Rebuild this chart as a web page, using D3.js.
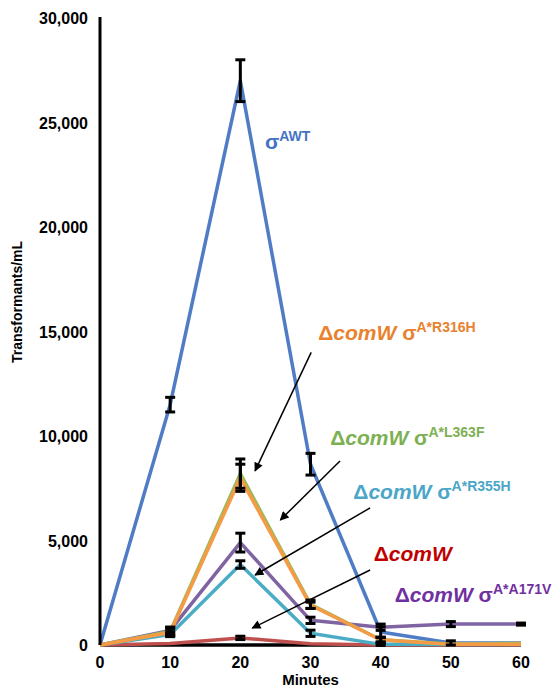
<!DOCTYPE html>
<html>
<head>
<meta charset="utf-8">
<script src="https://cdn.jsdelivr.net/npm/d3@7"></script>
<style>
  body { margin: 0; background: #fff; }
  text { font-family: Arial, "Liberation Sans", sans-serif; font-weight: bold; }
</style>
</head>
<body>
<div id="wrapper"></div>
<script>
// data
const minutes = [0, 10, 20, 30, 40, 50, 60]
const yTicks = [0, 5000, 10000, 15000, 20000, 25000, 30000]

const baseline = [0, 0, 0, 0, 0, 0, 0]
const comW = [0, 70, 340, 60, 0, 0, 0]
const wt = [0, 11500, 27000, 8650, 620, 100, 100]
const r355h = [0, 500, 3850, 560, 30, 20, 20]
const a171v = [0, 700, 4900, 1180, 850, 1000, 1000]
const l363f = [0, 650, 8200, 1950, 250, 50, 80]
const r316h = [0, 600, 8000, 1900, 250, 30, 30]

const comWErr = [0, 0, 80, 0, 0, 0, 0]
const wtErr = [0, 350, 1000, 520, 250, 100, 0]
const r355hErr = [0, 100, 180, 150, 50, 0, 0]
const a171vErr = [0, 150, 450, 150, 150, 120, 50]
const l363fErr = [0, 200, 700, 200, 120, 0, 0]
const r316hErr = [0, 150, 650, 150, 100, 0, 0]

const width = 556
let dimensions = {
    width: width,
    height: 688,
    margin: { top: 18, right: 35, bottom: 43, left: 100 },
}
dimensions.boundedWidth = dimensions.width - dimensions.margin.left - dimensions.margin.right
dimensions.boundedHeight = dimensions.height - dimensions.margin.top - dimensions.margin.bottom

const wrapper = d3.select("#wrapper")
    .append("svg")
    .attr("width", dimensions.width)
    .attr("height", dimensions.height)

const bounds = wrapper.append("g")
    .attr("transform", `translate(${dimensions.margin.left},${dimensions.margin.top})`)

const x = d3.scaleLinear().domain([0, 60]).range([0, dimensions.boundedWidth])
const y = d3.scaleLinear().domain([0, 30000]).range([dimensions.boundedHeight, 0])

// series, drawn bottom to top
const series = [
    { values: baseline, err: null, color: "#000000" },
    { values: comW, err: comWErr, color: "#C0504D" },
    { values: wt, err: wtErr, color: "#4F7CC4" },
    { values: r355h, err: r355hErr, color: "#4BACC6" },
    { values: a171v, err: a171vErr, color: "#8064A2" },
    { values: l363f, err: l363fErr, color: "#9BBB59" },
    { values: r316h, err: r316hErr, color: "#F59A45" },
]

const line = d3.line()
    .x((d, i) => x(minutes[i]))
    .y(d => y(d))

bounds.selectAll(".series")
    .data(series)
    .join("path")
    .attr("class", "series")
    .attr("d", d => line(d.values))
    .attr("fill", "none")
    .attr("stroke", d => d.color)
    .attr("stroke-width", 3.5)
    .attr("stroke-linejoin", "round")

// error bars
const bars = []
series.forEach(s => {
    if (!s.err) return
    s.values.forEach((v, i) => {
        if (s.err[i] > 0) bars.push({ x: minutes[i], lo: v - s.err[i], hi: v + s.err[i] })
    })
})
const eb = bounds.append("g").attr("stroke", "#000").attr("stroke-width", 3)
eb.selectAll(".stem").data(bars).join("line")
    .attr("x1", d => x(d.x)).attr("x2", d => x(d.x))
    .attr("y1", d => y(d.lo)).attr("y2", d => y(d.hi))
eb.selectAll(".capHi").data(bars).join("line")
    .attr("x1", d => x(d.x) - 5).attr("x2", d => x(d.x) + 5)
    .attr("y1", d => y(d.hi)).attr("y2", d => y(d.hi))
eb.selectAll(".capLo").data(bars).join("line")
    .attr("x1", d => x(d.x) - 5).attr("x2", d => x(d.x) + 5)
    .attr("y1", d => y(d.lo)).attr("y2", d => y(d.lo))

// y axis
bounds.append("line")
    .attr("x1", 0).attr("x2", 0)
    .attr("y1", -1).attr("y2", dimensions.boundedHeight)
    .attr("stroke", "#000").attr("stroke-width", 3)

bounds.selectAll(".ytick")
    .data(yTicks)
    .join("text")
    .attr("x", -12)
    .attr("y", d => y(d) + 6)
    .attr("text-anchor", "end")
    .attr("font-size", 16)
    .text(d => d3.format(",")(d))

bounds.selectAll(".xtick")
    .data(minutes)
    .join("text")
    .attr("x", d => x(d))
    .attr("y", dimensions.boundedHeight + 23)
    .attr("text-anchor", "middle")
    .attr("font-size", 16)
    .text(d => d)

wrapper.append("text")
    .attr("x", dimensions.margin.left + dimensions.boundedWidth / 2)
    .attr("y", 685)
    .attr("text-anchor", "middle")
    .attr("font-size", 15)
    .text("Minutes")

wrapper.append("text")
    .attr("transform", "translate(22,302) rotate(-90)")
    .attr("text-anchor", "middle")
    .attr("font-size", 14)
    .text("Transformants/mL")

// arrows
const defs = wrapper.append("defs")
defs.append("marker")
    .attr("id", "head")
    .attr("viewBox", "0 0 10 10")
    .attr("refX", 9).attr("refY", 5)
    .attr("markerWidth", 12).attr("markerHeight", 9)
    .attr("markerUnits", "userSpaceOnUse")
    .attr("orient", "auto")
    .append("path").attr("d", "M0,0L10,5L0,10z").attr("fill", "#000")

const arrows = [
    [30.1, 14000, 22.1, 8330],
    [34.2, 8800, 25.7, 5980],
    [38.5, 6560, 22.1, 3350],
    [38.5, 3590, 21.7, 810],
]
bounds.selectAll(".arrow")
    .data(arrows)
    .join("line")
    .attr("x1", d => x(d[0])).attr("y1", d => y(d[1]))
    .attr("x2", d => x(d[2])).attr("y2", d => y(d[3]))
    .attr("stroke", "#000").attr("stroke-width", 1.5)
    .attr("marker-end", "url(#head)")

// labels
const labels = [
    { x: 23.5, y: 23730, delta: false, sup: "AWT", color: "#4472C4" },
    { x: 31.1, y: 14600, delta: true, sup: "A*R316H", color: "#E8822E" },
    { x: 32.8, y: 9570, delta: true, sup: "A*L363F", color: "#7DB053" },
    { x: 36.1, y: 6990, delta: true, sup: "A*R355H", color: "#4BA6C8" },
    { x: 39.0, y: 4020, delta: true, sup: null, color: "#C00000" },
    { x: 42.0, y: 2060, delta: true, sup: "A*A171V", color: "#7030A0" },
]
labels.forEach(l => {
    const t = bounds.append("text")
        .attr("x", x(l.x)).attr("y", y(l.y))
        .attr("fill", l.color)
        .attr("font-size", 21)
    if (l.delta) {
        t.append("tspan").text("Δ")
        t.append("tspan").attr("font-style", "italic").text("comW")
        if (l.sup) t.append("tspan").text(" σ")
    } else {
        t.append("tspan").text("σ")
    }
    if (l.sup) {
        t.append("tspan").attr("font-size", 14).attr("dy", -8).text(l.sup)
    }
})
</script>
</body>
</html>
